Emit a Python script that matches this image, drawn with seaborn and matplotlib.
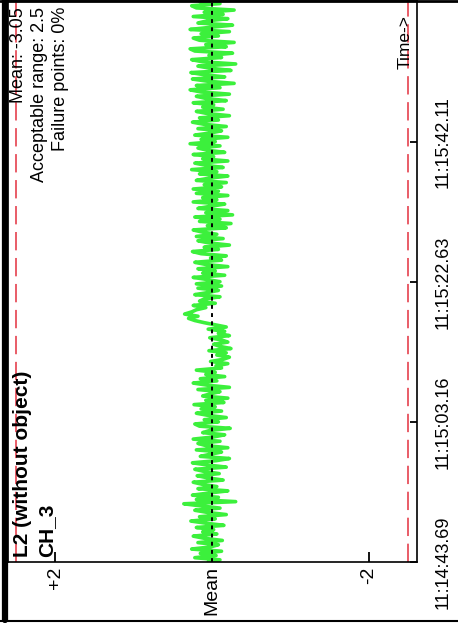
import numpy as np
import pandas as pd
import matplotlib
matplotlib.use("Agg")
import matplotlib.pyplot as plt
from matplotlib.lines import Line2D
import seaborn as sns

sns.set_theme(style="white")
plt.rcParams["font.family"] = ["Liberation Sans", "DejaVu Sans"]

# ---------------- data ----------------
title_line1 = "L2 (without object)"
title_line2 = "CH_3"
mean_value = -3.05
acceptable_range = 2.5
failure_points_pct = 0
time_tick_secs = [0.0, 19.47, 38.94, 58.42]
time_tick_labels = ["11:14:43.69", "11:15:03.16", "11:15:22.63", "11:15:42.11"]
value_ticks = [2, 0, -2]
value_tick_labels = ["+2", "Mean", "-2"]
sample_interval = 0.3  # seconds between samples

# deviation from the mean (positive = above mean)
deviation = [
    0.05, -0.10, 0.22, -0.05, 0.15, -0.12, 0.26, 0.02, -0.08, 0.18,
    -0.13, 0.10, 0.24, -0.06, 0.12, -0.02, 0.20, -0.15, 0.08, 0.27,
    -0.04, 0.16, -0.18, 0.06, 0.22, -0.10, 0.14, 0.36, -0.30, 0.20,
    -0.08, 0.25, 0.04, -0.20, 0.18, -0.06, 0.12, 0.24, -0.14, 0.05,
    0.19, -0.09, 0.10,
    0.22, -0.18, 0.06, 0.25, -0.05, -0.22, 0.15, 0.02, -0.12, 0.20,
    -0.20, 0.08, 0.18, -0.10, 0.24, -0.02, -0.16, 0.12, 0.03, -0.23,
    0.16, 0.22, -0.08, 0.10, -0.18, 0.05, 0.20, -0.12, 0.14, -0.04,
    0.23, -0.15, 0.08, -0.20, 0.12, 0.02, -0.10, 0.18, -0.22, 0.06,
    0.24, -0.06,
    0.15, -0.16, 0.08, -0.04, 0.20, -0.12,
    -0.05, -0.20, 0.02, -0.14, -0.22, -0.06, -0.18, 0.04, -0.24, -0.10,
    -0.02, -0.20, -0.12, 0.03, -0.22, -0.08, -0.16, 0.05, -0.18, -0.04,
    0.10, 0.22, 0.30, 0.18, 0.35, 0.26,
    0.20, 0.08, 0.24, -0.04, 0.16, 0.10, -0.10, 0.22, 0.05, -0.08, 0.18, -0.12,
    0.20, -0.10, 0.06, 0.24, -0.16, 0.12, -0.04, 0.18, -0.20, 0.08,
    0.22, -0.12, 0.02, -0.18, 0.14, 0.25, -0.08, 0.10, -0.22, 0.04,
    0.18, -0.14, 0.20, -0.06, 0.12, 0.24, -0.18, 0.06, -0.24, 0.16,
    -0.10, 0.22, -0.26, 0.08, -0.20, 0.18, 0.02, -0.16, 0.24, -0.06,
    0.12, -0.20, 0.20, -0.08,
    0.24, -0.12, 0.10, -0.18, 0.20, 0.04, -0.20, 0.16, -0.06, 0.26,
    -0.14, 0.08, 0.22, -0.20, 0.12, -0.02, 0.24, -0.16, 0.06, 0.18,
    -0.10, 0.28, -0.04, 0.14, -0.20, 0.22, 0.02, -0.12, 0.18, -0.18,
    0.10, 0.25, -0.08, 0.16, -0.22, 0.06, 0.20, -0.14, 0.12, -0.02,
    0.24, -0.18, 0.08, 0.20,
    -0.22, 0.14, 0.28, -0.10, 0.20, -0.28, 0.06, 0.25, -0.16, 0.10,
    0.27, -0.24, 0.02, 0.18, -0.30, 0.12, 0.26, -0.12, 0.04, -0.26,
    0.22, 0.28, -0.18, 0.08, -0.28, 0.16, 0.24, -0.08, 0.14, -0.22,
    0.28, 0.02, -0.26, 0.18, 0.06, -0.20, 0.24, -0.14, 0.10, -0.28,
    0.20, 0.26, -0.10, 0.16,
]

df = pd.DataFrame({
    "seconds": np.arange(len(deviation)) * sample_interval,
    "deviation": deviation,
})

# ---------------- figure ----------------
W, H = 458, 623
fig = plt.figure(figsize=(W / 100, H / 100), dpi=100)
ax = fig.add_axes([8 / W, 61 / H, 409 / W, 562 / H])

sns.lineplot(data=df, x="deviation", y="seconds", orient="y", sort=False,
             color="#3cf03c", linewidth=2.6, ax=ax)

ax.axvline(0, color="black", linewidth=1.4, linestyle=(0, (2, 2.2)), zorder=3)
for lim in (acceptable_range, -acceptable_range):
    ax.axvline(lim, color="#e3303f", linewidth=1.1, linestyle=(0, (12, 5)), zorder=1)

ax.set_xlim(2.6, -2.61)
ax.set_ylim(0, 78.2)
ax.set_xlabel("")
ax.set_ylabel("")

ax.set_xticks(value_ticks, value_tick_labels, rotation=90)
ax.tick_params(axis="x", direction="in", length=7, width=1.3, pad=3,
               labelsize=14, colors="black", bottom=True)
ax.yaxis.tick_right()
ax.set_yticks(time_tick_secs, time_tick_labels, rotation=90, va="center")
ax.tick_params(axis="y", direction="in", length=5, width=1.3, pad=13,
               labelsize=13, colors="black", right=True, left=False)

for s in ax.spines.values():
    s.set_color("black")
    s.set_linewidth(1.2)

ax.text(15 / 409, 5 / 562, title_line1, rotation=90, rotation_mode="anchor",
        ha="left", va="center", transform=ax.transAxes,
        fontsize=15, fontweight="bold", color="black")
ax.text(39 / 409, 5 / 562, title_line2, rotation=90, rotation_mode="anchor",
        ha="left", va="center", transform=ax.transAxes,
        fontsize=15, fontweight="bold", color="black")

info = (f"Mean: {mean_value:.2f}\n"
        f"Acceptable range: {acceptable_range}\n"
        f"Failure points: {failure_points_pct}%")
ax.text(2 / 409, 555 / 562, info, rotation=90, rotation_mode="anchor",
        ha="right", va="top", multialignment="right", linespacing=1.3,
        transform=ax.transAxes, fontsize=13, color="black")

ax.text(397 / 409, 520 / 562, "Time->", rotation=90, rotation_mode="anchor",
        ha="center", va="center", transform=ax.transAxes,
        fontsize=12.5, color="black")

# outer frame of the original screenshot
fig.add_artist(Line2D([5 / W, 5 / W], [3 / H, 1], transform=fig.transFigure,
                      color="black", linewidth=4.5))
fig.add_artist(Line2D([0, 1], [2.5 / H, 2.5 / H], transform=fig.transFigure,
                      color="black", linewidth=1.5))
fig.add_artist(Line2D([0, 1], [1 - 0.5 / H, 1 - 0.5 / H], transform=fig.transFigure,
                      color="black", linewidth=2))

fig.savefig("out.png", dpi=100)
